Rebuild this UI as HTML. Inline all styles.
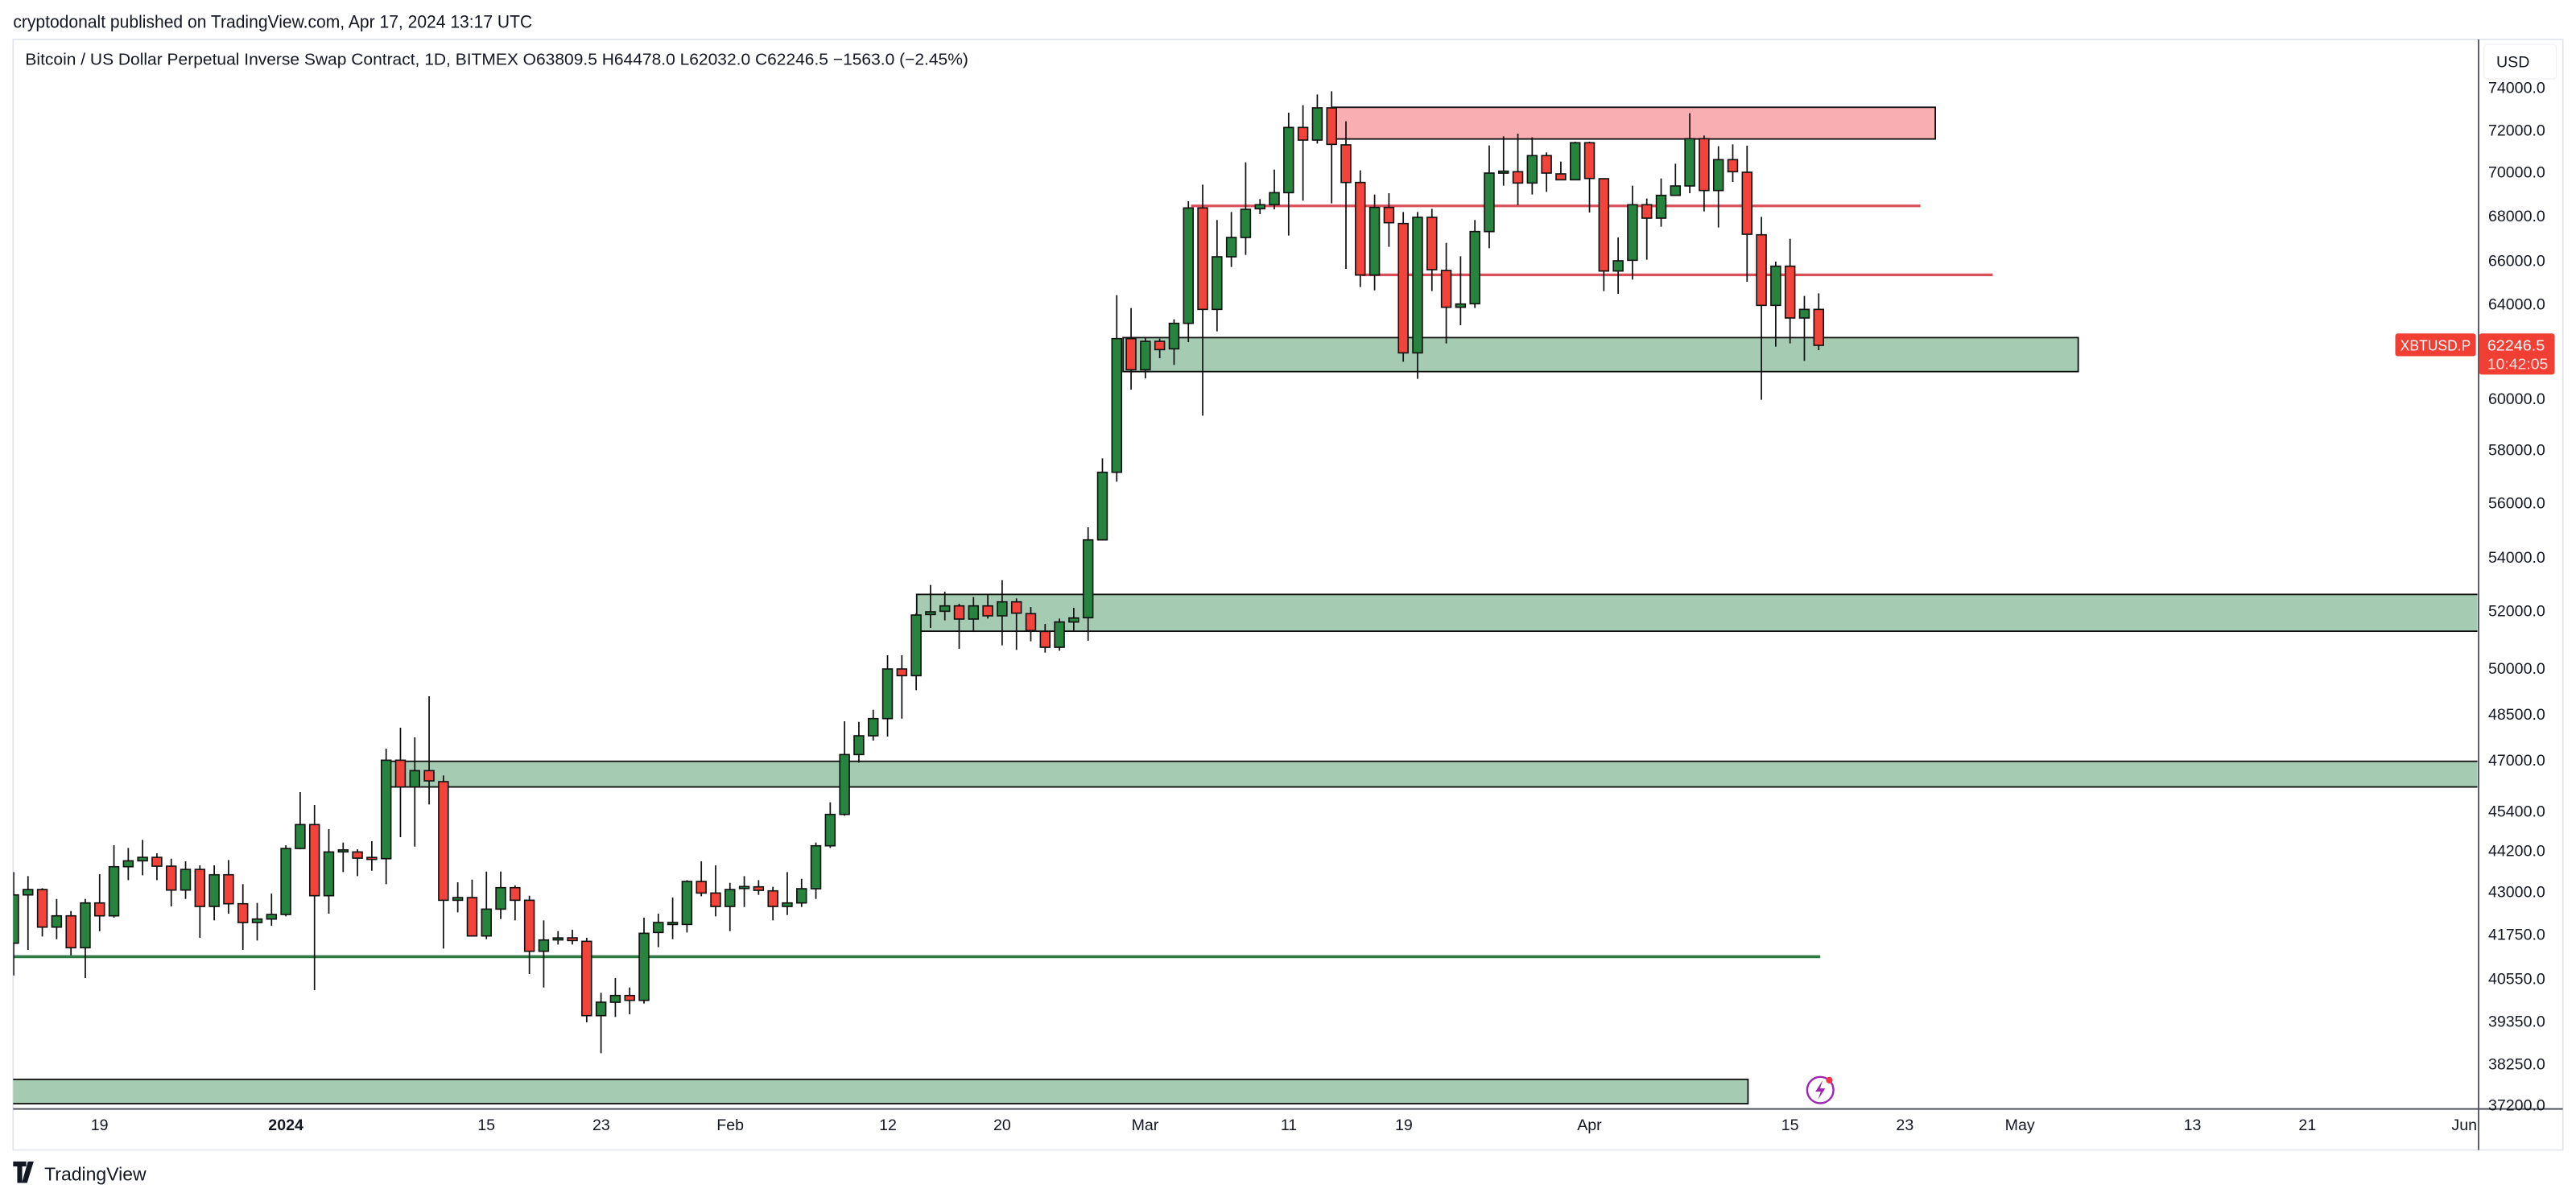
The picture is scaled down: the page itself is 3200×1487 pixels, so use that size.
<!DOCTYPE html>
<html><head><meta charset="utf-8"><style>
html,body{margin:0;padding:0;background:#fff;width:3200px;height:1487px;overflow:hidden}
svg{display:block}
text{font-family:"Liberation Sans",sans-serif;fill:#131722}
</style></head><body>
<svg id="s" width="3200" height="1487" viewBox="0 0 1568 728.6" preserveAspectRatio="none" xmlns="http://www.w3.org/2000/svg">
<defs><clipPath id="pc"><rect x="8" y="27" width="1500" height="648"/></clipPath></defs>
<rect x="0" y="0" width="1568" height="728.6" fill="#fff"/>
<text x="8" y="17" font-size="11" textLength="316" lengthAdjust="spacingAndGlyphs">cryptodonalt published on TradingView.com, Apr 17, 2024 13:17 UTC</text>
<rect x="8" y="24" width="1552" height="676" fill="#fff" stroke="#e0e3eb" stroke-width="0.8"/>
<text x="15.4" y="39.5" font-size="10" textLength="574" lengthAdjust="spacingAndGlyphs">Bitcoin / US Dollar Perpetual Inverse Swap Contract, 1D, BITMEX  O63809.5  H64478.0  L62032.0  C62246.5  −1563.0 (−2.45%)</text>
<g clip-path="url(#pc)">
<rect x="811" y="65.3" width="367" height="19.3" fill="#f9aeb1" stroke="#111" stroke-width="0.9"/>
<rect x="683.6" y="205.5" width="581.4" height="20.7" fill="#a6cbb3" stroke="#111" stroke-width="0.9"/>
<rect x="558" y="361.8" width="960" height="22.4" fill="#a6cbb3" stroke="#111" stroke-width="0.9"/>
<rect x="236" y="463.4" width="1280" height="15.6" fill="#a6cbb3" stroke="#111" stroke-width="0.9"/>
<rect x="4" y="657" width="1060" height="14.8" fill="#a6cbb3" stroke="#111" stroke-width="0.9"/>
<line x1="725" y1="125.3" x2="1169" y2="125.3" stroke="#d9505b" stroke-width="1.6"/>
<line x1="829" y1="167.3" x2="1213" y2="167.3" stroke="#d9505b" stroke-width="1.6"/>
<line x1="8" y1="582.3" x2="1108" y2="582.3" stroke="#2f7a45" stroke-width="1.8"/>
<g id="cd"></g>
</g>
<line x1="8" y1="675" x2="1560" y2="675" stroke="#50535e" stroke-width="1"/>
<line x1="1508.7" y1="24" x2="1508.7" y2="700" stroke="#50535e" stroke-width="0.9"/>
<g font-size="9.6" text-anchor="start">
<text x="1514.6" y="56.5">74000.0</text>
<text x="1514.6" y="82.5">72000.0</text>
<text x="1514.6" y="108">70000.0</text>
<text x="1514.6" y="134.8">68000.0</text>
<text x="1514.6" y="162">66000.0</text>
<text x="1514.6" y="188.5">64000.0</text>
<text x="1514.6" y="246">60000.0</text>
<text x="1514.6" y="277">58000.0</text>
<text x="1514.6" y="309.5">56000.0</text>
<text x="1514.6" y="342.5">54000.0</text>
<text x="1514.6" y="375">52000.0</text>
<text x="1514.6" y="410">50000.0</text>
<text x="1514.6" y="438">48500.0</text>
<text x="1514.6" y="466">47000.0</text>
<text x="1514.6" y="497">45400.0</text>
<text x="1514.6" y="521">44200.0</text>
<text x="1514.6" y="546">43000.0</text>
<text x="1514.6" y="572">41750.0</text>
<text x="1514.6" y="599">40550.0</text>
<text x="1514.6" y="625">39350.0</text>
<text x="1514.6" y="651">38250.0</text>
<text x="1514.6" y="676">37200.0</text>
</g>
<rect x="1512" y="27" width="44" height="21" rx="2" fill="#fff" stroke="#f0f0f3" stroke-width="0.6"/>
<text x="1519.5" y="41" font-size="9.6">USD</text>
<rect x="1458" y="203" width="49" height="13.8" rx="1.5" fill="#f23f33"/>
<text x="1461" y="213.3" font-size="9" style="fill:#fff" textLength="43" lengthAdjust="spacingAndGlyphs">XBTUSD.P</text>
<rect x="1509" y="203" width="46" height="25" rx="1.5" fill="#f23f33"/>
<text x="1514" y="213.3" font-size="9.2" style="fill:#fff" textLength="35" lengthAdjust="spacingAndGlyphs">62246.5</text>
<text x="1514" y="224.6" font-size="9.2" style="fill:#fde0dd" textLength="37" lengthAdjust="spacingAndGlyphs">10:42:05</text>
<g font-size="9.6" text-anchor="middle">
<text x="60.6" y="688">19</text>
<text x="174" y="688" font-weight="bold">2024</text>
<text x="296" y="688">15</text>
<text x="366" y="688">23</text>
<text x="444.5" y="688">Feb</text>
<text x="540.5" y="688">12</text>
<text x="610" y="688">20</text>
<text x="697" y="688">Mar</text>
<text x="784.5" y="688">11</text>
<text x="854.5" y="688">19</text>
<text x="967.5" y="688">Apr</text>
<text x="1089.6" y="688">15</text>
<text x="1159.5" y="688">23</text>
<text x="1229.5" y="688">May</text>
<text x="1334.5" y="688">13</text>
<text x="1404.5" y="688">21</text>
<text x="1500" y="688">Jun</text>
</g>
<circle cx="1108" cy="663.5" r="8" fill="#fff" stroke="#9c27b0" stroke-width="1.2"/>
<path d="M1109.5 657.5 L1105 664.5 L1108.3 664.5 L1106.5 669.5 L1111 662.5 L1107.8 662.5 Z" fill="#9c27b0"/>
<circle cx="1113.5" cy="657.5" r="2" fill="#f23645"/>
<path d="M8 707 h8 v3 h-2.5 v10 h-3 v-10 h-2.5 Z M17 707 h3.5 l-4 13 h-3.2 Z" fill="#131722"/>
<text x="27" y="718.5" font-size="11.5" textLength="62" lengthAdjust="spacingAndGlyphs">TradingView</text>
</svg>
<script>
(function(){
var f4=function(z){return 411.6+0.16333*z},f5=function(z){return 343+0.16333*z},f6=function(z){return 161.7+0.16333*z},f7=function(z){return 49+0.16333*z};
var A=[[995,730,1115,815],[815,745,1020,795],[795,790,970,935],[935,830,980,893],[893,875,1040,1012],[1012,830,1125,845],[845,738,950,893],[893,630,900,710],[710,640,760,688],[688,610,742,675],[675,660,760,708],[708,680,858,797],[797,690,830,720],[720,705,975,858],[858,705,910,740],[740,685,885,848],[848,775,1020,918],[918,845,985,905],[905,810,930,888],
[888,630,895,642],[642,432,645,553],[553,480,1170,818],[818,570,885,655],[652,620,730,650],[655,645,745,678],[678,615,725,680],[680,270,775,313],[313,192,600,413],[413,228,635,352],[352,75,478,390],[393,370,1015,835],[835,768,880,825],[825,758,970,968],[968,728,980,868],[868,728,905,788],[788,780,910,835],[835,818,1110,1025],[1025,910,1160,983],[980,950,1000,978],[975,945,1000,985],[988,975,1290,1265],[1265,1180,1405,1215],[1215,1125,1270,1190],[1190,1160,1260,1208],[1208,900,1220,958],[955,885,1010,918],[925,825,980,918],[925,760,955,765],[765,690,820,808],[808,705,895,858],
[858,770,950,795],[790,745,860,785],[785,760,815,798],[800,785,910,858],[858,730,890,845],[845,755,860,792],[792,620,830,632],[632,470,640,515],[515,168,520,292],[292,170,322,222],[222,125,240,158]];
var B=[[578,342,645,393],[393,342,578,418],[418,185,472,192],[190,80,240,180],[178,105,212,158],[158,150,318,207],[207,125,255,158],[158,118,205,195],[195,62,305,143],[143,130,322,185],[187,162,290,250],[253,225,332,312],[312,205,325,218],[218,165,250,203]];
var C=[[1312,975,1398,1022],[1022,718,1022,770],[770,110,805,272],[272,158,462,388]];
var D=[[1078,960,1110,972],[972,962,1035,1003],[1000,890,1060,905],[905,450,975,475],[475,388,1249,853],[853,520,935,657],[657,490,695,585],[585,305,650,480],[478,442,498,463],[463,332,480,418],[418,120,578,175],[175,92,448,222],[222,52,235,102],[102,40,458,238],[240,152,702,380],[380,335,770,725],[725,425,782,473],[473,420,620,530],[533,490,1048,1015],[1015,490,1112,510],[510,478,785,705],[708,605,980,845],[845,655,912,833],[832,520,848,563],[563,242,625,345],[343,208,392,340],[340,198,465,382],[382,212,425,280],[280,268,415,345],[348,302,372,370],[370,228,372,232],
[232,228,492,365],[366,366,785,710],[710,585,795,672],[670,392,742,463],[463,440,668,513],[513,365,545,428],[428,310,430,393],[393,122,420,217],[217,205,488,410],[410,245,548,295],[295,238,378,340],[342,243,750,573],[575,508,1190,838],[838,675,992,692],[692,590,980,885],[885,803,1045,853],[853,793,1005,987]];
var all=[];
A.forEach(function(c){all.push([f4(c[0]),f4(c[1]),f4(c[2]),f4(c[3])])});
B.forEach(function(c){all.push([f5(c[0]),f5(c[1]),f5(c[2]),f5(c[3])])});
C.forEach(function(c){all.push([f6(c[0]),f6(c[1]),f6(c[2]),f6(c[3])])});
D.forEach(function(c){all.push([f7(c[0]),f7(c[1]),f7(c[2]),f7(c[3])])});
var g=document.getElementById('cd'),h='';
all.forEach(function(c,i){
 var x=174+8.72*(i-19),o=c[0],hi=c[1],lo=c[2],cl=c[3];
 var up=cl<=o;var top=Math.min(o,cl),bh=Math.max(Math.abs(o-cl),1.2);
 if(Math.abs(o-cl)<1.2)top=(o+cl)/2-0.6;
 h+='<line x1="'+x+'" y1="'+Math.min(hi,top)+'" x2="'+x+'" y2="'+Math.max(lo,top+bh)+'" stroke="#111" stroke-width="0.85"/>';
 h+='<rect x="'+(x-2.9)+'" y="'+top+'" width="5.8" height="'+bh+'" fill="'+(up?'#26843f':'#f2443a')+'" stroke="#111" stroke-width="0.8"/>';
});
g.innerHTML=h;
})();
</script>
</body></html>
